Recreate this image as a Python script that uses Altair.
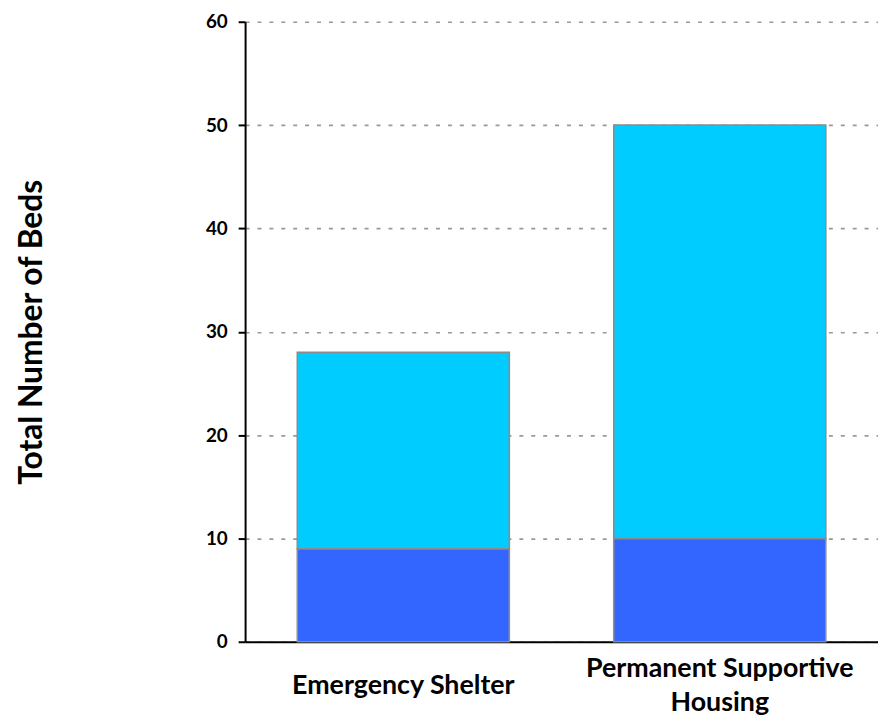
import altair as alt
import pandas as pd

categories = ["Emergency Shelter", "Permanent Supportive Housing"]
series = ["Lower", "Upper"]
lower_values = [9, 10]
upper_values = [19, 40]
colors = ["#3366FF", "#00CCFF"]
y_ticks = [0, 10, 20, 30, 40, 50, 60]

rows = []
for i, c in enumerate(categories):
    rows.append({"category": c, "series": series[0], "value": lower_values[i], "order": 0})
    rows.append({"category": c, "series": series[1], "value": upper_values[i], "order": 1})
df = pd.DataFrame(rows)

FONT = "Lato"

chart = alt.Chart(df).mark_bar(stroke="#8c8c8c", strokeWidth=1.6).encode(
    x=alt.X("category:N", sort=categories,
            scale=alt.Scale(paddingInner=0.33, paddingOuter=0.165),
            axis=alt.Axis(title=None, labelAngle=0, labelFont=FONT, labelFontSize=27,
                          labelFontWeight="bold", labelColor="#000000", labelLimit=500,
                          labelBaseline="alphabetic", labelLineHeight=34,
                          labelPadding={"condition": {"test": "datum.value === 'Emergency Shelter'", "value": 52},
                                        "value": 35},
                          labelExpr="datum.label == 'Permanent Supportive Housing' ? ['Permanent Supportive', 'Housing'] : datum.label",
                          ticks=False, domainColor="#000000", domainWidth=2, grid=False)),
    y=alt.Y("value:Q", stack="zero",
            scale=alt.Scale(domain=[0, 60], nice=False),
            axis=alt.Axis(title="Total Number of Beds", values=y_ticks,
                          titleFont=FONT, titleFontSize=32, titleFontWeight="bold",
                          titleColor="#000000", titleX=-205, titleBaseline="alphabetic",
                          labelFont=FONT, labelFontSize=19, labelFontWeight="bold",
                          labelColor="#000000", labelPadding=11,
                          tickColor="#000000", tickSize=7, tickWidth=2,
                          domainColor="#000000", domainWidth=2,
                          grid=True, gridColor="#999999", gridDash=[4, 8], gridWidth=1.6)),
    color=alt.Color("series:N", sort=series,
                    scale=alt.Scale(domain=series, range=colors), legend=None),
    order=alt.Order("order:Q"),
).properties(
    width=638, height=625,
    autosize=alt.AutoSizeParams(type="none"),
    padding={"left": 239, "top": 11, "right": 0, "bottom": 74},
).configure_view(stroke=None)

chart.save("out.html", embed_options={"renderer": "svg", "actions": False})
